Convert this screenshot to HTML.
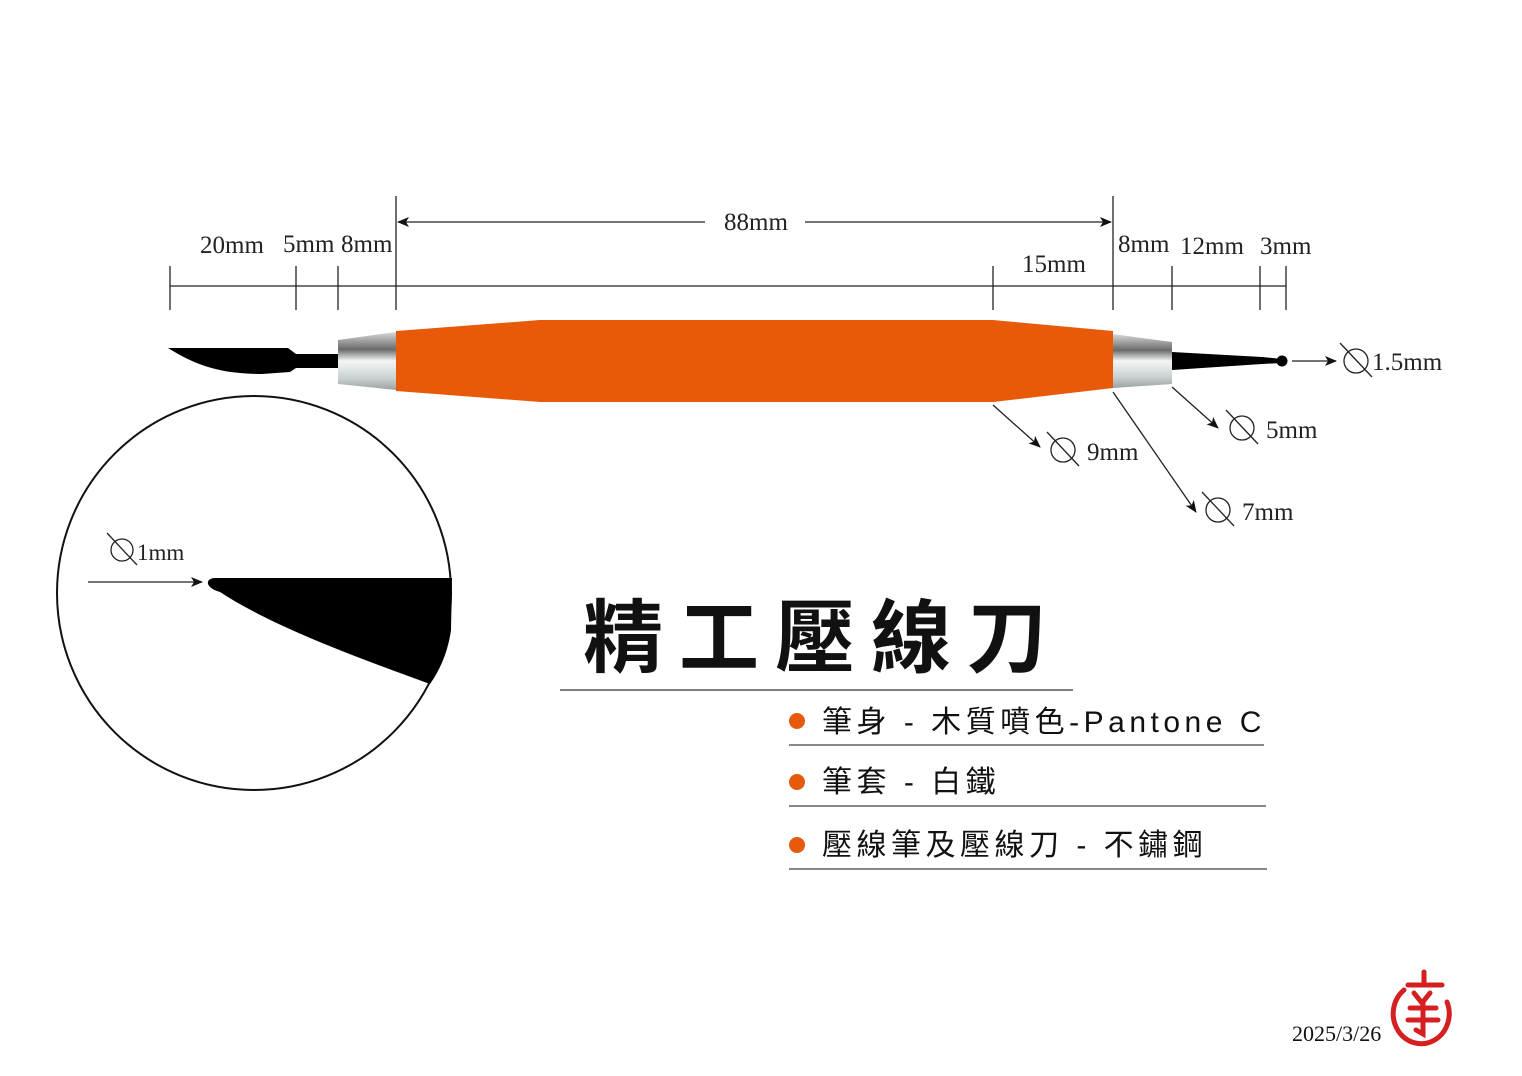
<!DOCTYPE html>
<html><head><meta charset="utf-8"><style>
html,body{margin:0;padding:0;background:#fff;}
svg{display:block;}
.m{font-family:"Liberation Serif","Noto Serif CJK SC",serif;font-size:25px;fill:#222;}
.c{font-family:"Liberation Sans","Noto Sans CJK TC",sans-serif;fill:#111;}
</style></head><body>
<svg width="1522" height="1076" viewBox="0 0 1522 1076" xmlns="http://www.w3.org/2000/svg">
<defs>
<marker id="a" markerWidth="12" markerHeight="10" refX="11" refY="5" orient="auto" markerUnits="userSpaceOnUse"><path d="M0,0 L12,5 L0,10 L3,5 Z" fill="#111"/></marker>
<linearGradient id="g" x1="0" y1="0" x2="0" y2="1">
<stop offset="0" stop-color="#d8d8d8"/><stop offset="0.3" stop-color="#6a6a6a"/><stop offset="0.5" stop-color="#f4f6f6"/><stop offset="0.8" stop-color="#c9d0d0"/><stop offset="1" stop-color="#9aa3a3"/></linearGradient>
</defs>
<rect width="1522" height="1076" fill="#fff"/>
<g stroke="#222" stroke-width="1.3" fill="none">
<line x1="170" y1="286" x2="1286" y2="286"/>
<line x1="170" y1="266" x2="170" y2="310"/>
<line x1="296" y1="266" x2="296" y2="310"/>
<line x1="338" y1="266" x2="338" y2="310"/>
<line x1="396" y1="196" x2="396" y2="310"/>
<line x1="993" y1="266" x2="993" y2="310"/>
<line x1="1113" y1="196" x2="1113" y2="310"/>
<line x1="1172" y1="266" x2="1172" y2="310"/>
<line x1="1260" y1="266" x2="1260" y2="310"/>
<line x1="1286" y1="266" x2="1286" y2="310"/>
<line x1="705" y1="222" x2="398" y2="222" marker-end="url(#a)"/>
<line x1="805" y1="222" x2="1111" y2="222" marker-end="url(#a)"/>
<line x1="993" y1="405" x2="1040" y2="447" marker-end="url(#a)"/>
<line x1="1113" y1="392" x2="1196" y2="512" marker-end="url(#a)"/>
<line x1="1172" y1="387" x2="1218" y2="428" marker-end="url(#a)"/>
<line x1="1292" y1="361" x2="1336" y2="361" marker-end="url(#a)"/>
<line x1="88" y1="582" x2="202" y2="582" marker-end="url(#a)"/>
</g>
<text class="m" x="756" y="230" text-anchor="middle">88mm</text>
<text class="m" x="200" y="253">20mm</text>
<text class="m" x="283" y="252">5mm</text>
<text class="m" x="341" y="252">8mm</text>
<text class="m" x="1022" y="272">15mm</text>
<text class="m" x="1118" y="252">8mm</text>
<text class="m" x="1180" y="254">12mm</text>
<text class="m" x="1260" y="254">3mm</text>
<path d="M396,331 L540,320 L993,320 L1113,331 L1113,388 L993,402 L540,402 L396,391 Z" fill="#e85a0a"/>
<path d="M338,340 L396,332 L396,390 L338,384 Z" fill="url(#g)"/>
<path d="M1113,334 L1172,342 L1172,384 L1113,388 Z" fill="url(#g)"/>
<path d="M168,348 L288,348 L296,354 L338,354 L338,368 L296,368 L290,372 L262,374 C220,374 195,365 168,348 Z" fill="#000"/>
<path d="M1172,352 L1262,357 L1282,359 L1282,363 L1262,364 L1172,370 Z" fill="#000"/>
<circle cx="1282" cy="361" r="5.5" fill="#000"/>
<g stroke="#222" stroke-width="1.3" fill="none">
<circle cx="1356" cy="361" r="12"/><line x1="1340" y1="343" x2="1372" y2="377"/>
<circle cx="1242" cy="428" r="12"/><line x1="1226" y1="410" x2="1258" y2="444"/>
<circle cx="1063" cy="450" r="12"/><line x1="1047" y1="432" x2="1079" y2="466"/>
<circle cx="1218" cy="510" r="12"/><line x1="1202" y1="492" x2="1234" y2="526"/>
<circle cx="122" cy="550" r="11"/><line x1="107" y1="533" x2="137" y2="565"/>
</g>
<text class="m" x="1372" y="370">1.5mm</text>
<text class="m" x="1266" y="438">5mm</text>
<text class="m" x="1087" y="460">9mm</text>
<text class="m" x="1242" y="520">7mm</text>
<text class="m" x="137" y="560" style="font-size:23px">1mm</text>
<circle cx="254" cy="593" r="197" fill="none" stroke="#111" stroke-width="2"/>
<path d="M214,578 L452,578 L451,630 C448,652 440,670 430,684 C350,655 270,625 220,592 C205,588 205,579 214,578 Z" fill="#000"/>
<text class="c" x="583" y="666" style="font-size:80px;font-weight:bold;letter-spacing:16px">精工壓線刀</text>
<line x1="560" y1="690" x2="1073" y2="690" stroke="#555" stroke-width="1.5"/>
<g fill="#e55a0c"><circle cx="797" cy="721" r="8"/><circle cx="797" cy="782" r="8"/><circle cx="797" cy="845" r="8"/></g>
<text class="c" x="822" y="732" style="font-size:30px;letter-spacing:4.5px">筆身 - 木質噴色-Pantone C</text>
<text class="c" x="822" y="792" style="font-size:30px;letter-spacing:4.5px">筆套 - 白鐵</text>
<text class="c" x="822" y="855" style="font-size:30px;letter-spacing:4.5px">壓線筆及壓線刀 - 不鏽鋼</text>
<g stroke="#888" stroke-width="2"><line x1="789" y1="745" x2="1264" y2="745"/><line x1="789" y1="806" x2="1266" y2="806"/><line x1="789" y1="869" x2="1267" y2="869"/></g>
<text x="1292" y="1041" style="font-family:'Liberation Serif',serif;font-size:22px;fill:#111">2025/3/26</text>
<g stroke="#d42020" stroke-width="5" fill="none" stroke-linecap="round">
<path d="M1404,990 A28,30 0 1 0 1447,1002"/>
<line x1="1424" y1="972" x2="1424" y2="985"/>
<line x1="1408" y1="985" x2="1442" y2="985"/>
<path d="M1414,993 L1422,1003 L1430,993"/>
<line x1="1410" y1="1008" x2="1436" y2="1008"/>
<line x1="1408" y1="1020" x2="1438" y2="1020"/>
<path d="M1423,1003 L1423,1034 L1416,1030"/>
</g>
</svg>
</body></html>
